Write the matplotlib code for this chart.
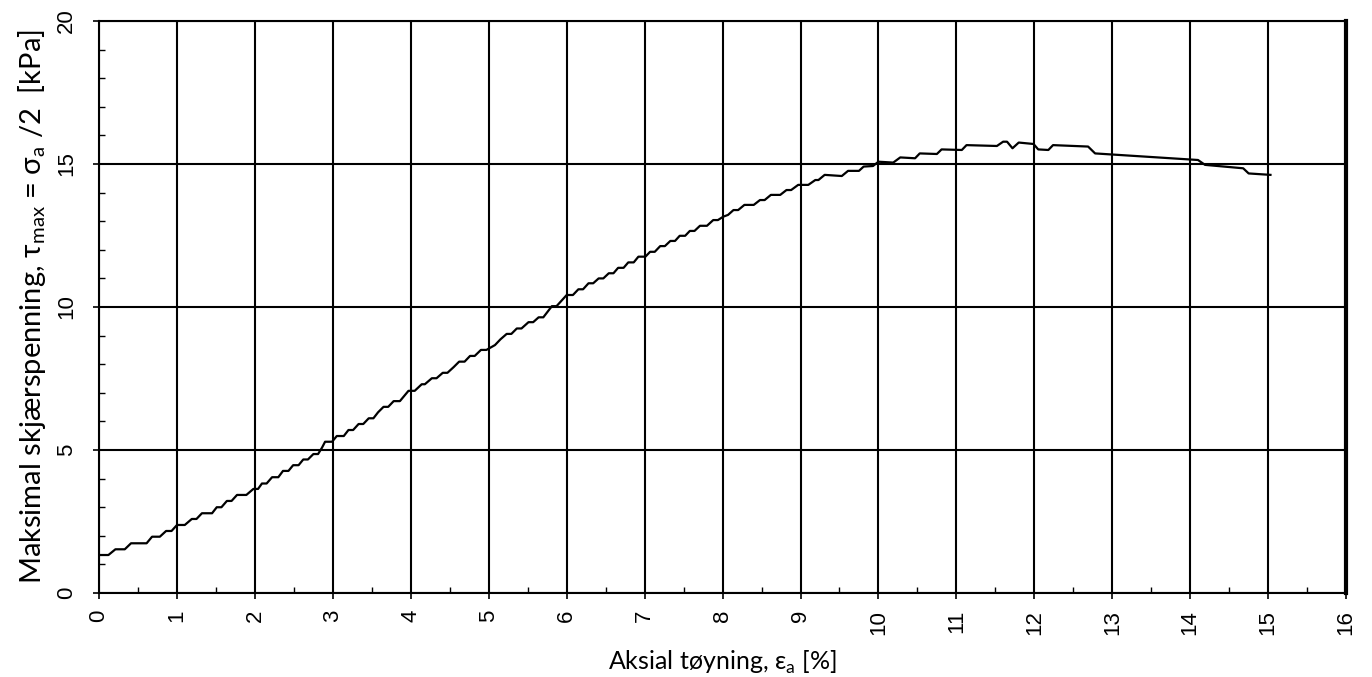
import matplotlib
matplotlib.use("Agg")
import matplotlib.pyplot as plt
from matplotlib.ticker import MultipleLocator

# strain [%] and max shear stress [kPa]
strain = [0.00, 0.12, 0.21, 0.33, 0.41, 0.61, 0.68, 0.78, 0.86, 0.93,
          1.00, 1.10, 1.19, 1.25, 1.32, 1.45, 1.51, 1.57, 1.64, 1.70,
          1.77, 1.89, 1.98, 2.04, 2.09, 2.15, 2.22, 2.30, 2.36, 2.43,
          2.49, 2.56, 2.62, 2.68, 2.75, 2.81, 2.86, 2.90, 2.99, 3.05,
          3.14, 3.20, 3.26, 3.33, 3.39, 3.46, 3.52, 3.58, 3.65, 3.71,
          3.78, 3.86, 3.97, 4.05, 4.14, 4.18, 4.27, 4.33, 4.41, 4.47,
          4.55, 4.62, 4.69, 4.76, 4.82, 4.90, 4.97, 5.08, 5.15, 5.23,
          5.29, 5.36, 5.42, 5.51, 5.57, 5.64, 5.70, 5.81, 5.87, 6.00,
          6.08, 6.15, 6.21, 6.28, 6.34, 6.41, 6.47, 6.54, 6.60, 6.66,
          6.73, 6.79, 6.86, 6.92, 7.01, 7.07, 7.13, 7.20, 7.26, 7.33,
          7.39, 7.45, 7.52, 7.58, 7.64, 7.71, 7.80, 7.88, 7.94, 8.01,
          8.07, 8.14, 8.20, 8.28, 8.40, 8.48, 8.54, 8.62, 8.74, 8.82,
          8.88, 8.97, 9.10, 9.19, 9.23, 9.31, 9.53, 9.61, 9.75, 9.81,
          9.93, 10.00, 10.19, 10.28, 10.47, 10.53, 10.75, 10.81, 11.07, 11.13,
          11.52, 11.60, 11.65, 11.72, 11.80, 11.99, 12.05, 12.18, 12.24, 12.69,
          12.78, 14.10, 14.19, 14.68, 14.75, 15.03]
tau = [1.33, 1.33, 1.53, 1.53, 1.74, 1.74, 1.97, 1.97, 2.17, 2.17,
       2.38, 2.38, 2.59, 2.59, 2.79, 2.79, 3.00, 3.00, 3.22, 3.22,
       3.43, 3.43, 3.64, 3.64, 3.83, 3.83, 4.05, 4.05, 4.27, 4.27,
       4.47, 4.47, 4.67, 4.67, 4.86, 4.86, 5.08, 5.29, 5.29, 5.49,
       5.49, 5.70, 5.70, 5.91, 5.91, 6.11, 6.11, 6.32, 6.51, 6.51,
       6.71, 6.71, 7.07, 7.07, 7.30, 7.30, 7.51, 7.51, 7.70, 7.70,
       7.90, 8.09, 8.09, 8.29, 8.29, 8.50, 8.50, 8.67, 8.87, 9.06,
       9.06, 9.25, 9.25, 9.47, 9.47, 9.64, 9.64, 10.03, 10.03, 10.42,
       10.42, 10.62, 10.62, 10.83, 10.83, 11.00, 11.00, 11.18, 11.18, 11.37,
       11.37, 11.56, 11.56, 11.76, 11.76, 11.93, 11.93, 12.13, 12.13, 12.31,
       12.31, 12.49, 12.49, 12.66, 12.66, 12.84, 12.84, 13.04, 13.04, 13.16,
       13.22, 13.39, 13.39, 13.57, 13.57, 13.74, 13.74, 13.92, 13.92, 14.09,
       14.09, 14.27, 14.27, 14.44, 14.44, 14.62, 14.58, 14.76, 14.76, 14.91,
       14.93, 15.08, 15.05, 15.23, 15.20, 15.37, 15.35, 15.51, 15.49, 15.66,
       15.63, 15.78, 15.78, 15.55, 15.75, 15.70, 15.51, 15.49, 15.66, 15.61,
       15.37, 15.14, 14.97, 14.85, 14.67, 14.62]

x_ticks = list(range(0, 17))
y_ticks = [0, 5, 10, 15, 20]

plt.rcParams['mathtext.fontset'] = 'custom'
plt.rcParams['mathtext.rm'] = 'Lato'

fig = plt.figure(figsize=(13.72, 6.77), dpi=100)
ax = fig.add_axes([0.0722, 0.124, 0.9089, 0.845])

ax.plot(strain, tau, color='black', lw=1.6, zorder=3)

ax.set_xlim(0, 16)
ax.set_ylim(0, 20)
ax.set_xticks(x_ticks)
ax.set_yticks(y_ticks)
ax.xaxis.set_minor_locator(MultipleLocator(0.5))
ax.yaxis.set_minor_locator(MultipleLocator(1))
ax.grid(True, which='major', color='black', lw=1.5)

tick_font = dict(family=['Liberation Sans', 'DejaVu Sans'], size=16)
ax.set_xticklabels([str(v) for v in x_ticks], rotation=90, **tick_font)
ax.set_yticklabels([str(v) for v in y_ticks], rotation=90, va='center', **tick_font)
ax.tick_params(which='major', direction='inout', length=8, width=1.2)
ax.tick_params(axis='x', which='major', pad=8)
ax.tick_params(axis='y', which='major', pad=12)
ax.tick_params(which='minor', direction='in', length=4, width=1.0)

for s in ax.spines.values():
    s.set_linewidth(1.5)
ax.spines['right'].set_linewidth(3)

fam = ['Lato', 'DejaVu Sans']
ax.set_xlabel('Aksial tøyning, ε$_\\mathrm{a}$ [%]', labelpad=10, family=fam, size=18)
ax.set_ylabel('Maksimal skjærspenning, τ$_\\mathrm{max}$ = σ$_\\mathrm{a}$ /2  [kPa]',
              labelpad=6, family=fam, size=21)

fig.savefig('out.png', dpi=100)
